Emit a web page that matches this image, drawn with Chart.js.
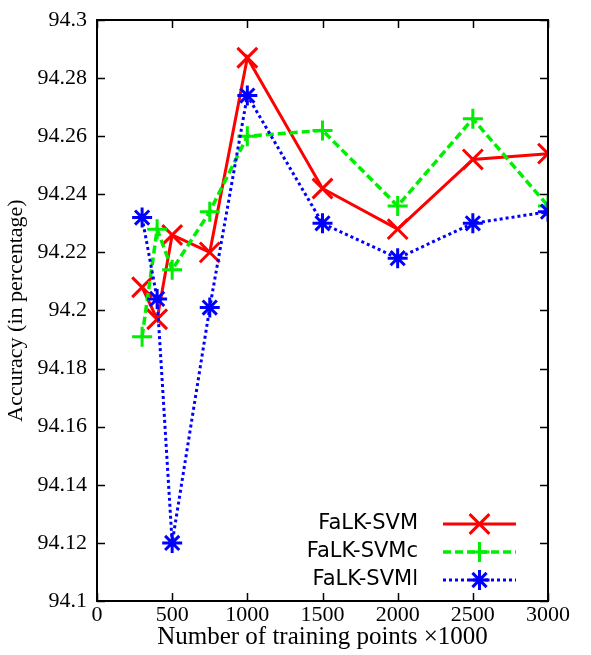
<!DOCTYPE html>
<html>
<head>
<meta charset="utf-8">
<script src="https://cdn.jsdelivr.net/npm/chart.js@4/dist/chart.umd.min.js"></script>
<style>
  html, body { margin: 0; padding: 0; background: #fff; }
  #wrap { width: 591px; height: 655px; }
</style>
</head>
<body>
<div id="wrap"><canvas id="chart"></canvas></div>
<script>
'use strict';

// training set sizes (x1000)
const trainPoints = [300, 400, 500, 750, 1000, 1500, 2000, 2500, 3000];

const falkSvm  = [94.208, 94.197, 94.226, 94.220, 94.287, 94.242, 94.228, 94.252, 94.254];
const falkSvmc = [94.191, 94.228, 94.214, 94.234, 94.260, 94.262, 94.236, 94.266, 94.236];
const falkSvml = [94.232, 94.204, 94.120, 94.201, 94.274, 94.230, 94.218, 94.230, 94.234];

const xTicks = [0, 500, 1000, 1500, 2000, 2500, 3000];
const yTicks = [94.1, 94.12, 94.14, 94.16, 94.18, 94.2, 94.22, 94.24, 94.26, 94.28, 94.3];

const serif = '"Liberation Serif", "DejaVu Serif", serif';
const sans = '"DejaVu Sans", "Noto Sans", sans-serif';

function series(values) {
  return values.map((v, i) => ({ x: trainPoints[i], y: v }));
}

function makeDataset(label, values, color, style, radius, dash, width, order) {
  return {
    label,
    data: series(values),
    borderColor: color,
    backgroundColor: color,
    borderWidth: width,
    borderDash: dash,
    pointStyle: style,
    pointRadius: radius,
    pointBorderWidth: 3,
    pointBorderColor: color,
    pointHoverRadius: radius,
    tension: 0,
    order,
  };
}

// box around the plot with inward ticks on all four sides
const frame = {
  id: 'frame',
  afterDraw(chart) {
    const { ctx, chartArea: a, scales } = chart;
    const len = 8;
    ctx.save();
    ctx.strokeStyle = '#000';
    ctx.lineWidth = 1.5;
    ctx.beginPath();
    xTicks.forEach(t => {
      const px = Math.round(scales.x.getPixelForValue(t)) + 0.5;
      ctx.moveTo(px, a.bottom); ctx.lineTo(px, a.bottom - len);
      ctx.moveTo(px, a.top); ctx.lineTo(px, a.top + len);
    });
    yTicks.forEach(t => {
      const py = Math.round(scales.y.getPixelForValue(t)) + 0.5;
      ctx.moveTo(a.left, py); ctx.lineTo(a.left + len, py);
      ctx.moveTo(a.right, py); ctx.lineTo(a.right - len, py);
    });
    ctx.stroke();
    ctx.lineWidth = 2;
    ctx.strokeRect(a.left, a.top, a.right - a.left, a.bottom - a.top);
    ctx.restore();
  }
};

// key drawn inside the plot, lower right
const key = {
  id: 'key',
  afterDraw(chart) {
    const { ctx, chartArea: a } = chart;
    const textRight = a.right - 130;
    const lineStart = a.right - 105;
    const lineEnd = a.right - 32;
    const mid = (lineStart + lineEnd) / 2;
    ctx.save();
    ctx.font = '21px ' + sans;
    ctx.textAlign = 'right';
    ctx.textBaseline = 'middle';
    chart.data.datasets.forEach((ds, i) => {
      const y = a.bottom - 77 + i * 28;
      ctx.fillStyle = '#000';
      ctx.fillText(ds.label, textRight, y);
      ctx.strokeStyle = ds.borderColor;
      ctx.lineWidth = ds.borderWidth;
      ctx.setLineDash(ds.borderDash);
      ctx.beginPath();
      ctx.moveTo(lineStart, y);
      ctx.lineTo(lineEnd, y);
      ctx.stroke();
      ctx.setLineDash([]);
      ctx.lineWidth = ds.pointBorderWidth;
      ctx.fillStyle = ds.borderColor;
      Chart.helpers.drawPoint(ctx, { pointStyle: ds.pointStyle, radius: ds.pointRadius, rotation: 0, borderWidth: ds.pointBorderWidth }, mid, y);
    });
    ctx.restore();
  }
};

new Chart(document.getElementById('chart'), {
  type: 'line',
  data: {
    datasets: [
      makeDataset('FaLK-SVM', falkSvm, '#ff0000', 'crossRot', 14, [], 3, 3),
      makeDataset('FaLK-SVMc', falkSvmc, '#00ee00', 'cross', 10, [8, 4], 3.5, 2),
      makeDataset('FaLK-SVMl', falkSvml, '#0000ff', 'star', 10, [3, 3], 3, 1),
    ],
  },
  options: {
    responsive: true,
    maintainAspectRatio: false,
    animation: false,
    layout: { padding: { left: 0, right: 43, top: 20, bottom: 0 } },
    plugins: {
      legend: { display: false },
      tooltip: { enabled: false },
    },
    scales: {
      x: {
        type: 'linear',
        min: 0,
        max: 3000,
        afterBuildTicks: scale => { scale.ticks = xTicks.map(v => ({ value: v })); },
        afterFit: scale => { scale.height = 54; },
        grid: { display: false, drawTicks: false },
        border: { display: false },
        ticks: {
          color: '#000',
          font: { family: serif, size: 22 },
          padding: 1,
          maxRotation: 0,
          callback: v => String(v),
        },
        title: {
          display: true,
          text: 'Number of training points ×1000',
          color: '#000',
          font: { family: serif, size: 25 },
          padding: { top: 0, bottom: 3 },
        },
      },
      y: {
        min: 94.1,
        max: 94.3,
        afterBuildTicks: scale => { scale.ticks = yTicks.map(v => ({ value: v })); },
        afterFit: scale => {
          scale.width = 97;
          scale.paddingTop = 0;
          scale.paddingBottom = 0;
        },
        grid: { display: false, drawTicks: false },
        border: { display: false },
        ticks: {
          color: '#000',
          font: { family: serif, size: 22 },
          padding: 10,
          callback: v => String(parseFloat(v.toFixed(2))),
        },
        title: {
          display: true,
          text: 'Accuracy (in percentage)',
          color: '#000',
          font: { family: serif, size: 22 },
          padding: { top: 3, bottom: 0 },
        },
      },
    },
  },
  plugins: [frame, key],
});
</script>
</body>
</html>
